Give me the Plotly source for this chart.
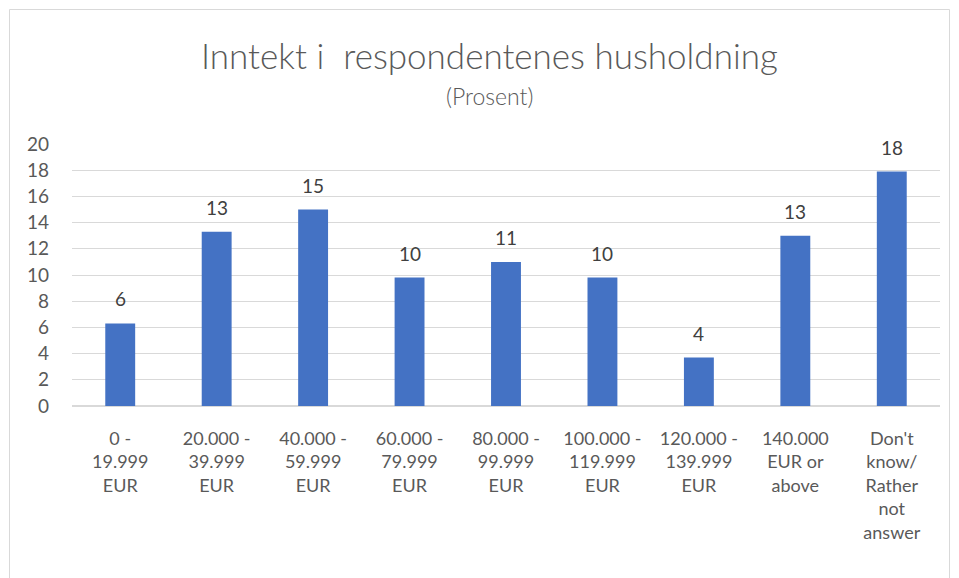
import plotly.graph_objects as go

categories = ["0 -<br>19.999<br>EUR", "20.000 -<br>39.999<br>EUR", "40.000 -<br>59.999<br>EUR",
              "60.000 -<br>79.999<br>EUR", "80.000 -<br>99.999<br>EUR", "100.000 -<br>119.999<br>EUR",
              "120.000 -<br>139.999<br>EUR", "140.000<br>EUR or<br>above", "Don't<br>know/<br>Rather<br>not<br>answer"]
values = [6.3, 13.3, 15.0, 9.8, 11.0, 9.8, 3.7, 13.0, 17.9]
labels = ["6", "13", "15", "10", "11", "10", "4", "13", "18"]
yticks = [0, 2, 4, 6, 8, 10, 12, 14, 16, 18, 20]

FONT = "Lato, Open Sans, sans-serif"
OFF = 8  # page body offset
W, H = 959, 578
L, R, T, B = 72 - OFF, 940 - OFF, 144 - OFF, 406 - OFF

fig = go.Figure(go.Bar(
    x=categories, y=values,
    marker=dict(color="#4472C4", line=dict(width=0)), width=0.31,
))

for c, v, t in zip(categories, values, labels):
    fig.add_annotation(x=c, y=v, text=t, showarrow=False, yanchor="bottom", yshift=11,
                       font=dict(size=19, color="#404040", family=FONT))

fig.update_layout(
    width=W, height=H,
    margin=dict(l=L, r=W - R, t=T, b=H - B),
    paper_bgcolor="white", plot_bgcolor="white",
    showlegend=False,
    font=dict(family=FONT, color="#595959"),
    xaxis=dict(tickfont=dict(size=18, color="#595959"), showgrid=False, showline=False, ticks="",
               ticklabelstandoff=20),
    yaxis=dict(range=[0, 20], tickvals=yticks, tickfont=dict(size=19, color="#595959"),
               gridcolor="#D9D9D9", gridwidth=1, zeroline=True, zerolinecolor="#D9D9D9",
               showline=False, ticks="", ticklabelstandoff=22),
)

def px_x(p):
    return (p - OFF - L) / (R - L)

def px_y(p):
    return (B - (p - OFF)) / (B - T)

fig.add_annotation(text="Inntekt i  respondentenes husholdning", xref="paper", yref="paper",
                   x=px_x(489), y=px_y(55), xanchor="center", yanchor="middle", showarrow=False,
                   font=dict(size=35, color="#595959", family=FONT, weight=300))
fig.add_annotation(text="(Prosent)", xref="paper", yref="paper",
                   x=px_x(489), y=px_y(96), xanchor="center", yanchor="middle", showarrow=False,
                   font=dict(size=23, color="#595959", family=FONT, weight=300))

fig.add_shape(type="rect", xref="paper", yref="paper",
              x0=px_x(9.5), x1=px_x(949.5), y0=px_y(620), y1=px_y(9.5),
              line=dict(color="#D9D9D9", width=1), layer="below")

fig.write_html("out.html")
